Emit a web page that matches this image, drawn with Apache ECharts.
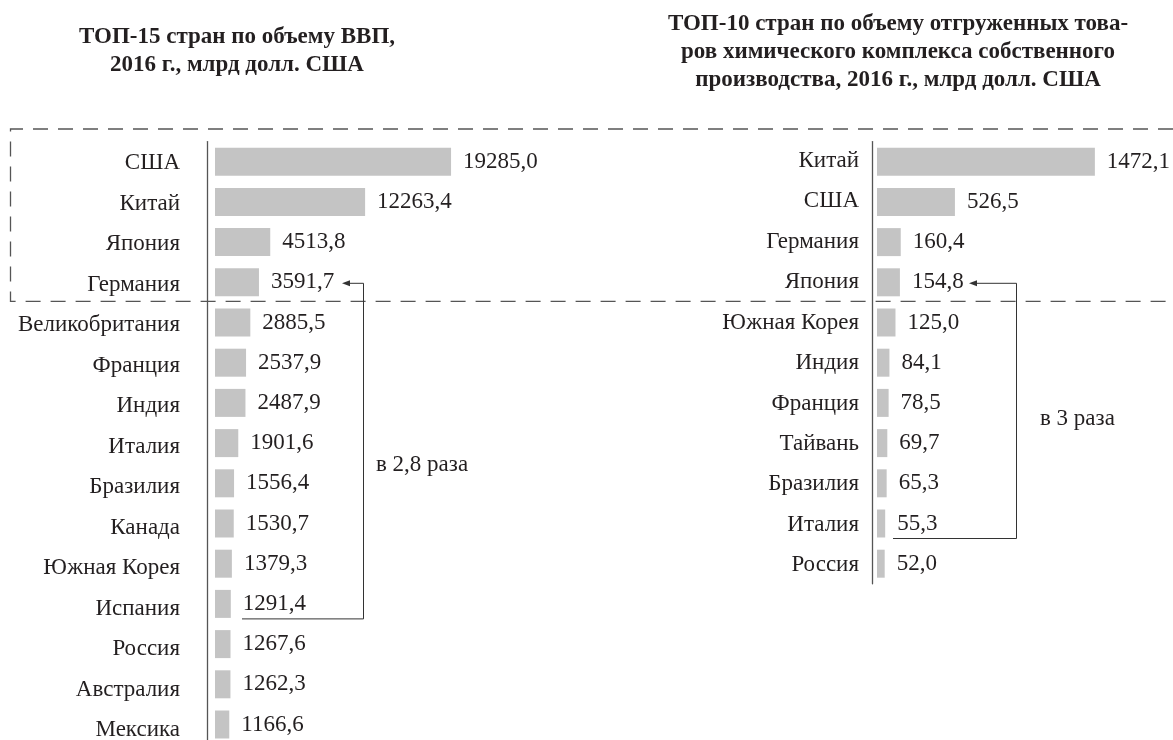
<!DOCTYPE html>
<html>
<head>
<meta charset="utf-8">
<script src="https://cdn.jsdelivr.net/npm/echarts@6/dist/echarts.min.js"></script>
<style>
html,body{margin:0;padding:0;background:#fff;}
#c{width:1173px;height:740px;}
</style>
</head>
<body>
<div id="c"></div>
<script>
const leftTitle = 'ТОП-15 стран по объему ВВП,\n2016 г., млрд долл. США';
const rightTitle = 'ТОП-10 стран по объему отгруженных това-\nров химического комплекса собственного\nпроизводства, 2016 г., млрд долл. США';
const leftCountries = ['США','Китай','Япония','Германия','Великобритания','Франция','Индия','Италия','Бразилия','Канада','Южная Корея','Испания','Россия','Австралия','Мексика'];
const leftValues = [19285.0,12263.4,4513.8,3591.7,2885.5,2537.9,2487.9,1901.6,1556.4,1530.7,1379.3,1291.4,1267.6,1262.3,1166.6];
const rightCountries = ['Китай','США','Германия','Япония','Южная Корея','Индия','Франция','Тайвань','Бразилия','Италия','Россия'];
const rightValues = [1472.1,526.5,160.4,154.8,125.0,84.1,78.5,69.7,65.3,55.3,52.0];
const leftNote = 'в 2,8 раза';
const rightNote = 'в 3 раза';

const FONT = 'Liberation Serif';
const TXT = '#231f20';
const BAR = '#c4c4c4';
const FS = 23;
const fmt = v => v.toFixed(1).replace('.', ',');

const chart = echarts.init(document.getElementById('c'), null, {renderer:'canvas'});

function yAx(grid, data, offset, margin, showLine, showLabel){
  return {
    type:'category', gridIndex:grid, data:data, inverse:true, offset:offset,
    axisLine:{show:showLine, onZero:false, lineStyle:{color:'#555', width:1.3}},
    axisTick:{show:false},
    axisLabel:{show:showLabel, margin:margin, fontFamily:FONT, fontSize:FS, color:TXT}
  };
}
function ser(i, data){
  return {
    type:'bar', xAxisIndex:i, yAxisIndex:i, data:data, barWidth:28,
    itemStyle:{color:BAR},
    label:{show:true, position:'right', distance:12, fontFamily:FONT, fontSize:FS, color:TXT,
      formatter:p => fmt(p.value)},
    silent:true, animation:false
  };
}
const G = (l, t, w, h) => ({left:l, top:t, width:w, height:h, outerBoundsMode:'none', containLabel:false});

chart.setOption({
  animation:false,
  title:[
    {text:leftTitle, left:232, top:18, textAlign:'center',
      textStyle:{fontFamily:FONT, fontSize:23, fontWeight:'bold', color:TXT, lineHeight:28, align:'center'}},
    {text:rightTitle, left:893, top:5, textAlign:'center',
      textStyle:{fontFamily:FONT, fontSize:23, fontWeight:'bold', color:TXT, lineHeight:28, align:'center'}}
  ],
  grid:[
    G(215, 141.6, 306, 603),
    G(877, 141.6, 296, 442.2),
    G(215, 143, 306, 607.5),
    G(877, 140.5, 296, 445)
  ],
  xAxis:[
    {type:'value', gridIndex:0, min:0, max:25000, show:false},
    {type:'value', gridIndex:1, min:0, max:2000, show:false},
    {type:'value', gridIndex:2, min:0, max:25000, show:false},
    {type:'value', gridIndex:3, min:0, max:2000, show:false}
  ],
  yAxis:[
    yAx(0, leftCountries, 8, 27, true, false),
    yAx(1, rightCountries, 5, 13, true, false),
    yAx(2, leftCountries, 8, 27, false, true),
    yAx(3, rightCountries, 5, 13, false, true)
  ],
  series:[ser(0, leftValues), ser(1, rightValues)]
});

// annotations positioned from axis scales
const py = (g, cat) => chart.convertToPixel({gridIndex:g}, [0, cat])[1];
const yBoxBottom = (py(0,'Германия') + py(0,'Великобритания'))/2 - 1;
const yBoxTop = 129;
const dashStyle = {stroke:'#555', lineWidth:1.3, lineDash:[15,10], fill:null};

const lGer = py(0,'Германия') + 1, lEsp = py(0,'Испания') + 15;
const rJap = py(1,'Япония') + 1, rIta = py(1,'Италия') + 15;
const lineStyle = {stroke:'#333', lineWidth:1, fill:null};
function arrow(x, y){
  return {type:'polygon', shape:{points:[[x,y],[x+8,y-3],[x+8,y+3]]}, style:{fill:'#333'}, silent:true};
}

chart.setOption({
  graphic:[
    {type:'polyline', shape:{points:[[1173,yBoxTop],[10.5,yBoxTop],[10.5,yBoxBottom],[1173,yBoxBottom]]}, style:dashStyle, silent:true},
    {type:'polyline', shape:{points:[[349,lGer],[363.5,lGer],[363.5,lEsp],[242,lEsp]]}, style:lineStyle, silent:true},
    arrow(342,lGer),
    {type:'polyline', shape:{points:[[976,rJap],[1016.5,rJap],[1016.5,rIta],[893,rIta]]}, style:lineStyle, silent:true},
    arrow(969,rJap),
    {type:'text', x:376, y:(py(0,'Италия')+py(0,'Бразилия'))/2 + 2, style:{text:leftNote, fontFamily:FONT, fontSize:FS, fill:TXT, verticalAlign:'middle'}, silent:true},
    {type:'text', x:1040, y:(py(1,'Франция')+py(1,'Тайвань'))/2 - 4, style:{text:rightNote, fontFamily:FONT, fontSize:FS, fill:TXT, verticalAlign:'middle'}, silent:true}
  ]
});
</script>
</body>
</html>
